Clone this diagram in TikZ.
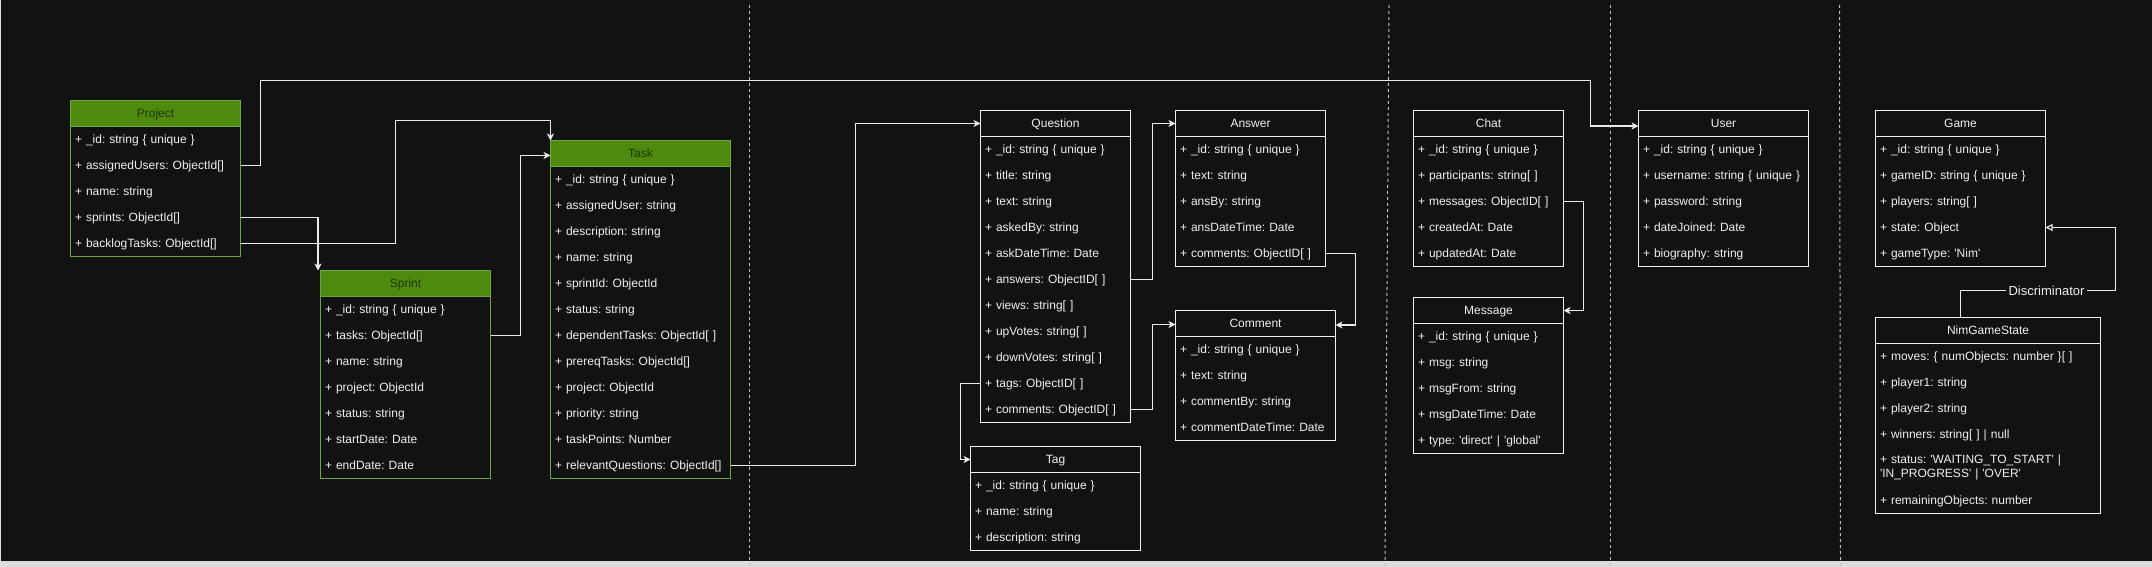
\documentclass[tikz,border=0pt]{standalone}
\usepackage{fontspec}
\setmainfont{Liberation Sans}
\usetikzlibrary{arrows.meta}
\definecolor{bg}{RGB}{18,18,18}
\definecolor{hdrgreen}{RGB}{77,138,14}
\definecolor{grnborder}{RGB}{110,165,70}
\definecolor{hdrtext}{RGB}{28,56,6}
\definecolor{fg}{RGB}{240,240,240}
\definecolor{linec}{RGB}{235,235,235}
\definecolor{dashc}{RGB}{190,190,190}
\definecolor{strip}{RGB}{220,220,220}
\newcommand\sq{\textquotesingle}
\frenchspacing
\tikzset{
  cell/.style={rectangle, inner xsep=4.5pt, inner ysep=0pt, outer sep=0pt, minimum height=26pt, align=left, anchor=north west, text=fg, font=\fontsize{12pt}{14.4pt}\selectfont\frenchspacing},
  rowcell/.style={cell, text height=10.9pt, text depth=2.5pt},
  headcell/.style={rectangle, inner sep=0pt, outer sep=0pt, minimum height=26pt, anchor=north west, align=center, text height=10.9pt, text depth=2.5pt, font=\fontsize{12pt}{14.4pt}\selectfont, line width=1pt},
  ghead/.style={headcell, fill=hdrgreen, draw=grnborder, text=hdrtext},
  whead/.style={headcell, fill=bg, draw=fg, text=fg},
  gframe/.style={draw=grnborder, line width=1pt},
  wframe/.style={draw=fg, line width=1pt},
  conn/.style={draw=linec, line width=1.1pt, -{Stealth[length=7pt,width=7pt,inset=2pt]}},
  inh/.style={draw=linec, line width=1.1pt, -{Triangle[open,length=7pt,width=7pt]}},
  sepline/.style={draw=dashc, line width=1pt, dash pattern=on 3pt off 3pt},
  dlabel/.style={fill=bg, text=fg, inner xsep=3pt, inner ysep=2pt, font=\fontsize{13pt}{15pt}\selectfont},
}
\newcommand\classhead[6]{\node[#6head, minimum width=#4pt] (#1) at (#2,#3) {#5};}
\newcommand\classrows[5]{%
  \pgfmathsetmacro\rowtw{#4-9}%
  \foreach \rowtxt [count=\ri] in {#5} {%
    \node[rowcell, text width=\rowtw pt] (#1-\ri) at (#2,#3+26*\ri) {\rowtxt};
  }}
\newcommand\umlbox[8]{%
  \classhead{#1}{#2}{#3}{#4}{#6}{#7}
  \classrows{#1}{#2}{#3}{#4}{#8}
  \draw[#7frame] (#2,#3) rectangle ++(#4,{26*(#5+1)});
}
\begin{document}
\begin{tikzpicture}[x=1pt,y=-1pt]
\fill[bg] (0,0) rectangle (2152,567);
\useasboundingbox (0,0) rectangle (2152,567);
\fill[strip] (0,560.5) rectangle (2152,567);
\draw[strip, line width=1pt] (0.5,0) -- (0.5,560.5);
% separators
\draw[sepline] (749.5,5) -- (749.5,567);
\draw[sepline] (1389,5) -- (1385,567);
\draw[sepline] (1610,5) -- (1610,567);
\draw[sepline] (1839.5,5) -- (1840.5,567);
% classes
\umlbox{project}{70.5}{100.5}{170}{5}{Project}{g}{{+ \_id: string \{ unique \}},{+ assignedUsers: ObjectId[]},{+ name: string},{+ sprints: ObjectId[]},{+ backlogTasks: ObjectId[]}}
\umlbox{sprint}{320.5}{270.5}{170}{7}{Sprint}{g}{{+ \_id: string \{ unique \}},{+ tasks: ObjectId[]},{+ name: string},{+ project: ObjectId},{+ status: string},{+ startDate: Date},{+ endDate: Date}}
\umlbox{task}{550.5}{140.5}{180}{12}{Task}{g}{{+ \_id: string \{ unique \}},{+ assignedUser: string},{+ description: string},{+ name: string},{+ sprintId: ObjectId},{+ status: string},{+ dependentTasks: ObjectId[ ]},{+ prereqTasks: ObjectId[]},{+ project: ObjectId},{+ priority: string},{+ taskPoints: Number},{+ relevantQuestions: ObjectId[]}}
\umlbox{question}{980.5}{110.5}{150}{11}{Question}{w}{{+ \_id: string \{ unique \}},{+ title: string},{+ text: string},{+ askedBy: string},{+ askDateTime: Date},{+ answers: ObjectID[ ]},{+ views: string[ ]},{+ upVotes: string[ ]},{+ downVotes: string[ ]},{+ tags: ObjectID[ ]},{+ comments: ObjectID[ ]}}
\umlbox{answer}{1175.5}{110.5}{150}{5}{Answer}{w}{{+ \_id: string \{ unique \}},{+ text: string},{+ ansBy: string},{+ ansDateTime: Date},{+ comments: ObjectID[ ]}}
\umlbox{comment}{1175.5}{310.5}{160}{4}{Comment}{w}{{+ \_id: string \{ unique \}},{+ text: string},{+ commentBy: string},{+ commentDateTime: Date}}
\umlbox{tag}{970.5}{446.5}{170}{3}{Tag}{w}{{+ \_id: string \{ unique \}},{+ name: string},{+ description: string}}
\umlbox{chat}{1413.5}{110.5}{150}{5}{Chat}{w}{{+ \_id: string \{ unique \}},{+ participants: string[ ]},{+ messages: ObjectID[ ]},{+ createdAt: Date},{+ updatedAt: Date}}
\umlbox{message}{1413.5}{297.5}{150}{5}{Message}{w}{{+ \_id: string \{ unique \}},{+ msg: string},{+ msgFrom: string},{+ msgDateTime: Date},{+ type: \sq direct\sq{} | \sq global\sq}}
\umlbox{user}{1638.5}{110.5}{170}{5}{User}{w}{{+ \_id: string \{ unique \}},{+ username: string \{ unique \}},{+ password: string},{+ dateJoined: Date},{+ biography: string}}
\umlbox{game}{1875.5}{110.5}{170}{5}{Game}{w}{{+ \_id: string \{ unique \}},{+ gameID: string \{ unique \}},{+ players: string[ ]},{+ state: Object},{+ gameType: \sq Nim\sq}}
% NimGameState
\classhead{nim}{1875.5}{317.5}{225}{NimGameState}{w}
\classrows{nim}{1875.5}{317.5}{225}{{+ moves: \{ numObjects: number \}[ ]},{+ player1: string},{+ player2: string},{+ winners: string[ ] | null}}
\node[cell, minimum height=40pt, text width=216pt] (nim-5) at (1875.5,447.5) {+ status: \sq WAITING\_TO\_START\sq{} |\\\sq IN\_PROGRESS\sq{} | \sq OVER\sq};
\node[rowcell, text width=216pt] (nim-6) at (1875.5,487.5) {+ remainingObjects: number};
\draw[wframe] (1875.5,317.5) rectangle ++(225,196);
% connectors
\draw[conn] (project-2.east) -- ++(20,0) |- (1590.5,80.5) |- ([yshift=-2.5pt]user.west);
\draw[conn] (project-4.east) -| ([xshift=-2.5pt]sprint.north west);
\draw[conn] (project-5.east) -| (395.5,120.5) -| (task.north west);
\draw[conn] (sprint-2.east) -- ++(30,0) |- ([yshift=-2pt]task.west);
\draw[conn] (task-12.east) -- ++(125,0) |- (question.west);
\draw[conn] (question-6.east) -- ++(22,0) |- (answer.west);
\draw[conn] (question-11.east) -- ++(22,0) |- ([yshift=-1pt]comment.west);
\draw[conn] (answer-5.east) -- ++(30,0) |- ([yshift=-1.5pt]comment.east);
\draw[conn] (question-10.west) -- ++(-20,0) |- (tag.west);
\draw[conn] (chat-3.east) -- ++(20,0) |- (message.east);
\draw[inh] ([xshift=85pt]nim.north west) |- (2115.5,290.5) |- (game-4.east);
\node[dlabel] (disc) at (2046.5,290.5) {Discriminator};
\end{tikzpicture}
\end{document}
